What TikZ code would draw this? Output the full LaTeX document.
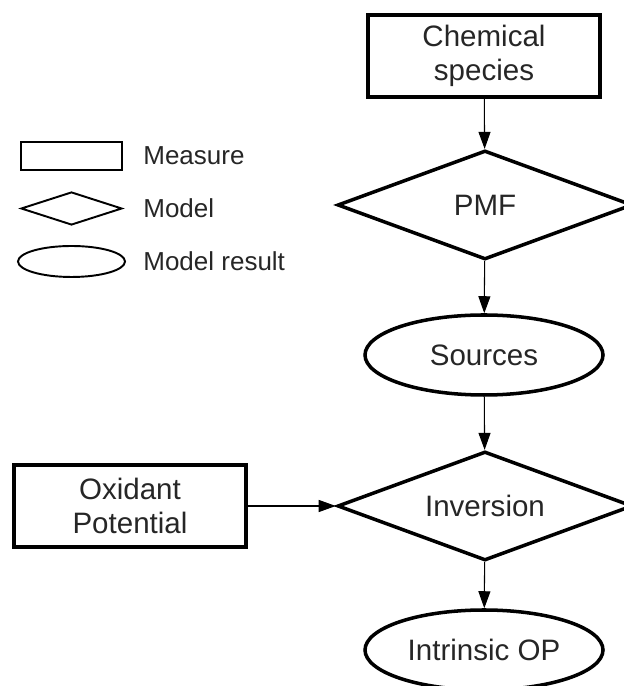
\documentclass[tikz,border=0pt]{standalone}
\usepackage{fontspec}
\setmainfont{Liberation Sans}
\usetikzlibrary{shapes.geometric,arrows.meta}

\tikzset{
  measure/.style={draw,line width=2pt,rectangle,minimum width=4.64cm,minimum height=1.64cm,
    align=center,font=\fontsize{16.8}{19.5}\selectfont,text=black!85},
  model/.style={draw,line width=2pt,diamond,aspect=2.7,minimum width=5.9cm,minimum height=2.18cm,
    inner sep=0pt,font=\fontsize{16.8}{19.5}\selectfont,text=black!85},
  result/.style={draw,line width=2pt,ellipse,minimum width=4.76cm,minimum height=1.6cm,
    inner sep=0pt,font=\fontsize{16.8}{19.5}\selectfont,text=black!85},
  flow/.style={line width=0.6pt,-{Triangle[length=0.34cm,width=0.24cm]}},
  keylabel/.style={right,font=\fontsize{14.8}{17}\selectfont,text=black!85,inner sep=0pt}
}

\begin{document}
\begin{tikzpicture}
  \useasboundingbox (0,0) rectangle (12.48,13.72);
  \clip (0,0) rectangle (12.48,13.72);

  % Legend
  \node[draw,line width=1.1pt,rectangle,minimum width=2.02cm,minimum height=0.56cm] (keyrect) at (1.43,10.6) {};
  \node[draw,line width=1.1pt,diamond,minimum width=2.02cm,minimum height=0.66cm,inner sep=0pt] (keydiam) at (1.43,9.55) {};
  \node[draw,line width=1.1pt,ellipse,minimum width=2.14cm,minimum height=0.62cm,inner sep=0pt] (keyell) at (1.43,8.49) {};
  \node[keylabel] (keyrectlbl) at (2.86,10.6) {Measure};
  \node[keylabel] (keydiamlbl) at (2.86,9.55) {Model};
  \node[keylabel] (keyelllbl) at (2.86,8.49) {Model result};

  % Main chain
  \node[measure] (chem) at (9.68,12.6) {Chemical\\species};
  \node[model] (pmf) at (9.7,9.62) {PMF};
  \node[result] (src) at (9.68,6.62) {Sources};
  \node[model] (inv) at (9.7,3.6) {Inversion};
  \node[result] (iop) at (9.68,0.72) {Intrinsic OP};

  % Side input
  \node[measure] (oxi) at (2.6,3.6) {Oxidant\\Potential};

  % Arrows
  \draw[flow] (chem) -- (pmf);
  \draw[flow] (pmf) -- (src);
  \draw[flow] (src) -- (inv);
  \draw[flow] (inv) -- (iop);
  \draw[flow] (oxi.east) -- (inv.west);
\end{tikzpicture}
\end{document}
